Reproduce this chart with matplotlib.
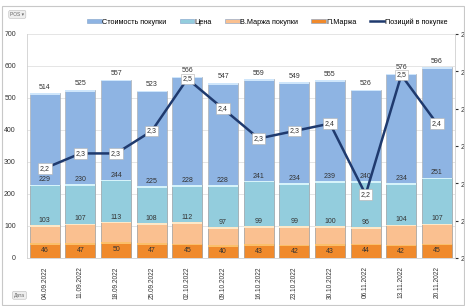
import numpy as np
import matplotlib
matplotlib.use('Agg')
import matplotlib.pyplot as plt
from matplotlib.patches import Rectangle
from matplotlib.lines import Line2D

plt.rcParams['font.family'] = ['Liberation Sans', 'DejaVu Sans']

dates = ['04.09.2022', '11.09.2022', '18.09.2022', '25.09.2022', '02.10.2022', '09.10.2022',
         '16.10.2022', '23.10.2022', '30.10.2022', '06.11.2022', '13.11.2022', '20.11.2022']
cost = [514, 525, 557, 523, 566, 547, 559, 549, 555, 526, 576, 596]
price = [229, 230, 244, 225, 228, 228, 241, 234, 239, 240, 234, 251]
v_margin = [103, 107, 113, 108, 112, 97, 99, 99, 100, 96, 104, 107]
p_margin = [46, 47, 50, 47, 45, 40, 43, 42, 43, 44, 42, 45]
positions = [2.24, 2.28, 2.28, 2.34, 2.48, 2.40, 2.32, 2.34, 2.36, 2.17, 2.49, 2.36]
right_ticks = [2.0, 2.1, 2.2, 2.3, 2.4, 2.5, 2.6]
right_labels = ['2,'] * len(right_ticks)   # right axis labels are cut to "2," in the original

names = ['Стоимость покупки', 'Цена', 'В.Маржа покупки', 'П.Маржа', 'Позиций в покупке']
body = ['#8eb4e3', '#93cddd', '#fac090', '#f08a2c']
tops = ['#cfe6fb', '#d6f3fa', '#fde8c8', '#fbbf6a']
line_col = '#1f3a6e'

fig = plt.figure(figsize=(4.65, 3.06), dpi=100)
fig.patch.set_facecolor('white')

# chart frame
fig.add_artist(Rectangle((0.004, 0.004), 0.994, 0.978, transform=fig.transFigure,
                         fill=False, edgecolor='#c8c8c8', lw=0.8))

ax = fig.add_axes([0.058, 0.157, 0.920, 0.732])
x = np.arange(len(dates))
w = 0.84

for vals, c, tc in zip([cost, price, v_margin, p_margin], body, tops):
    ax.bar(x, vals, width=w, color=c, edgecolor='#a8a8a8', linewidth=0.4, zorder=2)
    ax.bar(x, [5] * len(x), bottom=np.array(vals) - 5, width=w, color=tc,
           edgecolor='none', zorder=2)

for i in x:
    ax.text(i, cost[i] + 8, str(cost[i]), ha='center', va='bottom', fontsize=5, color='#333333', zorder=4)
    ax.text(i, price[i] + 4, str(price[i]), ha='center', va='bottom', fontsize=5, color='#333333', zorder=4)
    ax.text(i, v_margin[i] + 4, str(v_margin[i]), ha='center', va='bottom', fontsize=5, color='#333333', zorder=4)
    ax.text(i, p_margin[i] / 2, str(p_margin[i]), ha='center', va='center', fontsize=5, color='#333333', zorder=4)

ax.set_xlim(-0.5, len(dates) - 0.5)
ax.set_ylim(0, 700)
ax.set_yticks(range(0, 701, 100))
ax.tick_params(axis='y', labelsize=5, length=0, pad=8, colors='#333333')
ax.set_xticks(x)
ax.set_xticklabels(dates, rotation=90, fontsize=4.7, color='#333333')
ax.tick_params(axis='x', length=0, pad=6)
ax.grid(axis='y', color='#e0e0e0', lw=0.6, zorder=0)
ax.set_axisbelow(True)
for s in ['top', 'right']:
    ax.spines[s].set_visible(False)
ax.spines['left'].set_color('#d0d0d0')
ax.spines['bottom'].set_color('#d0d0d0')
ax.spines['left'].set_linewidth(0.6)
ax.spines['bottom'].set_linewidth(0.6)

ax2 = ax.twinx()
ax2.plot(x, positions, color=line_col, lw=1.8, zorder=5)
ax2.set_ylim(2.0, 2.6)
ax2.set_yticks(right_ticks)
ax2.set_yticklabels(right_labels)
ax2.tick_params(axis='y', labelsize=5, length=2, pad=2, colors='#333333')
for s in ['top', 'left', 'bottom']:
    ax2.spines[s].set_visible(False)
ax2.spines['right'].set_color('#d0d0d0')
ax2.spines['right'].set_linewidth(0.6)
for i in x:
    ax2.text(i, positions[i], f'{positions[i]:.1f}'.replace('.', ','), ha='center', va='center',
             fontsize=5, color='#333333', zorder=6,
             bbox=dict(boxstyle='square,pad=0.25', facecolor='white', edgecolor='#b0b0b0', lw=0.4))

# legend
handles = [Rectangle((0, 0), 1, 1, facecolor=c, edgecolor='#7fa0c8', lw=0.4) for c in body]
handles.append(Line2D([0], [0], color=line_col, lw=1.8))
fig.legend(handles, names, loc='center', bbox_to_anchor=(0.575, 0.928), ncol=5, frameon=False,
           fontsize=5.2, handlelength=2.0, handleheight=0.45, handletextpad=0.1, columnspacing=1.8)

# pivot buttons
fig.text(0.022, 0.953, 'POS ▾', fontsize=3.5, color='#666666', va='center',
         bbox=dict(boxstyle='round,pad=0.3', facecolor='#eeeeee', edgecolor='#bbbbbb', lw=0.4))
fig.text(0.03, 0.035, 'Дата', fontsize=3.5, color='#666666', va='center',
         bbox=dict(boxstyle='round,pad=0.3', facecolor='#eeeeee', edgecolor='#bbbbbb', lw=0.4))

fig.savefig('out.png', dpi=100)
